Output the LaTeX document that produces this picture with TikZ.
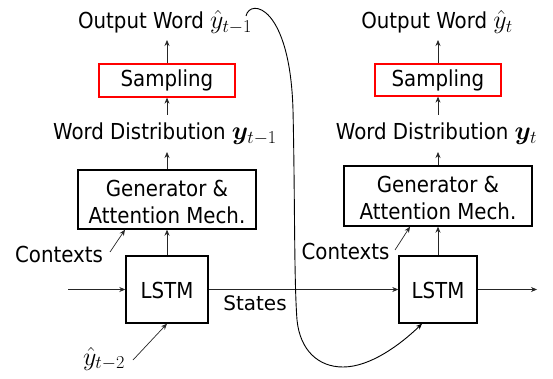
\RequirePackage{fix-cm}
\documentclass[tikz,border=0pt]{standalone}
\usepackage{amsmath,bm}
\usepackage{fontspec}
\setmainfont{DejaVu Sans Condensed}
\newfontfamily\statesfont{DejaVu Sans}
\newcommand{\MBig}[1]{{\fontsize{26}{28}\selectfont$#1$}}
\usetikzlibrary{arrows.meta}
\begin{document}
\begin{tikzpicture}[x=1pt,y=-1pt,
  font=\fontsize{22}{27}\selectfont,
  box/.style={draw=black,line width=1.4pt,inner sep=0pt,align=center},
  redbox/.style={draw=red,line width=1.3pt,inner sep=0pt,text height=17pt,text depth=4pt},
  lstmbox/.style={box,minimum height=67pt,text height=17pt,text depth=0pt},
  arr/.style={draw=black!85,line width=0.7pt,-{Stealth[length=6pt,width=5pt]}},
  lbl/.style={inner sep=0pt,anchor=base}
]
\useasboundingbox (0,0) rectangle (553,379);

% ---------- left column ----------
\node[lbl] (out1) at (165,29) {Output Word \MBig{\hat{y}_{t-1}}};
\node[redbox,minimum width=136pt,minimum height=33pt] (samp1) at (167,80.5) {Sampling};
\node[lbl] (wd1) at (165,140) {Word Distribution \MBig{\bm{y}_{t-1}}};
\node[box,minimum width=178pt,minimum height=59pt] (gen1) at (167,199.5)
  {\rule{0pt}{25pt}Generator \&\\Attention Mech.\rule[-5pt]{0pt}{5pt}};
\node[lbl] (ctx1) at (59,262) {Contexts};
\node[lstmbox,minimum width=82pt] (lstm1) at (167,289.5) {LSTM};
\node[lbl] (yh2) at (104,365) {\MBig{\hat{y}_{t-2}}};
\node[lbl,font=\statesfont\fontsize{20}{24}\selectfont] (states) at (255,310) {States};

% ---------- right column ----------
\node[lbl] (out2) at (437,29) {Output Word \MBig{\hat{y}_{t}}};
\node[redbox,minimum width=126pt,minimum height=32pt] (samp2) at (438,80) {Sampling};
\node[lbl] (wd2) at (436.5,140) {Word Distribution \MBig{\bm{y}_{t}}};
\node[box,minimum width=188pt,minimum height=60pt] (gen2) at (438,196)
  {\rule{0pt}{25pt}Generator \&\\Attention Mech.\rule[-5pt]{0pt}{5pt}};
\node[lbl] (ctx2) at (345.5,259) {Contexts};
\node[lstmbox,minimum width=78pt] (lstm2) at (438,289.5) {LSTM};

% ---------- free ends ----------
\coordinate (in1) at (68,289.5);
\coordinate (outr) at (537,289.5);
\coordinate (c1s) at (110,252);
\coordinate (c2s) at (395,250);
\coordinate (y2s) at (133,360);
\coordinate (fb) at (246,16);

% ---------- connectors ----------
\foreach \s/\g/\l in {samp1/gen1/lstm1, samp2/gen2/lstm2}{
  \draw[arr] (\s.north) -- ([yshift=-40pt]\s.north |- 0,0);
  \draw[arr] ([yshift=-115pt]\s.south |- 0,0) -- (\s.south);
  \draw[arr] (\g.north) -- ([yshift=-152pt]\g.north |- 0,0);
  \draw[arr] (\l.north) -- (\g.south);
}
\draw[arr] (c1s) -- ([xshift=-42pt]gen1.south);
\draw[arr] (c2s) -- ([xshift=-28pt]gen2.south);
\draw[arr] (y2s) -- (lstm1.south);
\draw[arr] (in1) -- (lstm1.west);
\draw[arr] (lstm1.east) -- (lstm2.west);
\draw[arr] (lstm2.east) -- (outr);
\draw[arr,draw=black,line width=0.9pt] (fb) .. controls (250,-2) and (290,5) .. (293,110)
  .. controls (295,200) and (294,280) .. (297,320)
  .. controls (300,350) and (318,367) .. (343,367)
  .. controls (370,367) and (400,345) .. ([xshift=-16pt]lstm2.south);
\end{tikzpicture}
\end{document}
